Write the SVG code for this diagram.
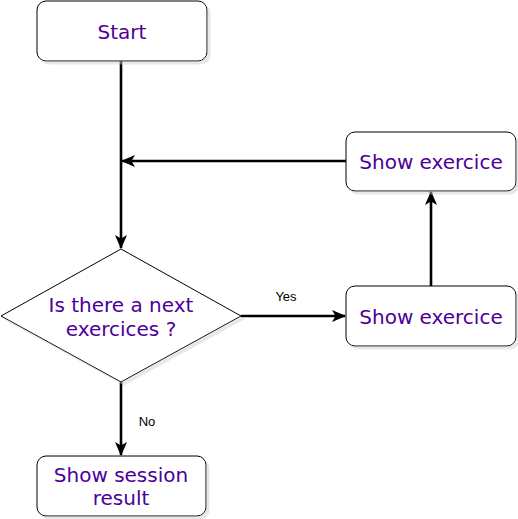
<svg xmlns="http://www.w3.org/2000/svg" width="518" height="519" viewBox="0 0 518 519">
<defs>
<marker id="arr" viewBox="0 0 14 12" refX="13" refY="6" markerWidth="14" markerHeight="12" markerUnits="userSpaceOnUse" orient="auto">
<path d="M0,0 L14,6 L0,12 L3.5,6 Z" fill="#000"/>
</marker>
<filter id="sh" x="-10%" y="-10%" width="130%" height="130%">
<feOffset dx="3" dy="3" in="SourceAlpha" result="o"/>
<feColorMatrix in="o" type="matrix" values="0 0 0 0 0.6 0 0 0 0 0.6 0 0 0 0 0.6 0 0 0 0.45 0" result="c"/>
<feMerge><feMergeNode in="c"/><feMergeNode in="SourceGraphic"/></feMerge>
</filter>
</defs>
<style>
.box{fill:#fff;stroke:#000;stroke-width:1;filter:url(#sh)}
.t{font-family:"DejaVu Sans",Verdana,sans-serif;font-size:20px;fill:#4C0099;text-anchor:middle}
.lbl{font-family:"Liberation Sans",Arial,sans-serif;font-size:13px;fill:#000;text-anchor:middle}
.e{fill:none;stroke:#000;stroke-width:2.6;marker-end:url(#arr)}
</style>
<rect width="518" height="519" fill="#fff"/>
<g id="connectors">
<path class="e" d="M121,61 L121,248"/>
<path class="e" d="M346,161 L122,161"/>
<path class="e" d="M241,316 L345,316"/>
<path class="e" d="M431,286 L431,192"/>
<path class="e" d="M121,382 L121,455"/>
<text class="lbl" x="286" y="301">Yes</text>
<text class="lbl" x="147" y="426">No</text>
</g>
<g id="start">
<rect class="box" x="37" y="1" width="170" height="60" rx="9"/>
<text class="t" x="122" y="39">Start</text>
</g>
<g id="decision">
<path class="box" d="M121,249 L241,316 L121,382 L1,316 Z"/>
<text class="t" x="121" y="312">Is there a next</text>
<text class="t" x="121" y="336">exercices ?</text>
</g>
<g id="show1">
<rect class="box" x="346" y="286" width="170" height="60" rx="9"/>
<text class="t" x="431" y="324">Show exercice</text>
</g>
<g id="show2">
<rect class="box" x="346" y="132" width="170" height="59" rx="9"/>
<text class="t" x="431" y="169">Show exercice</text>
</g>
<g id="result">
<rect class="box" x="37" y="456" width="169" height="60" rx="9"/>
<text class="t" x="121" y="482">Show session</text>
<text class="t" x="121" y="505">result</text>
</g>
</svg>
